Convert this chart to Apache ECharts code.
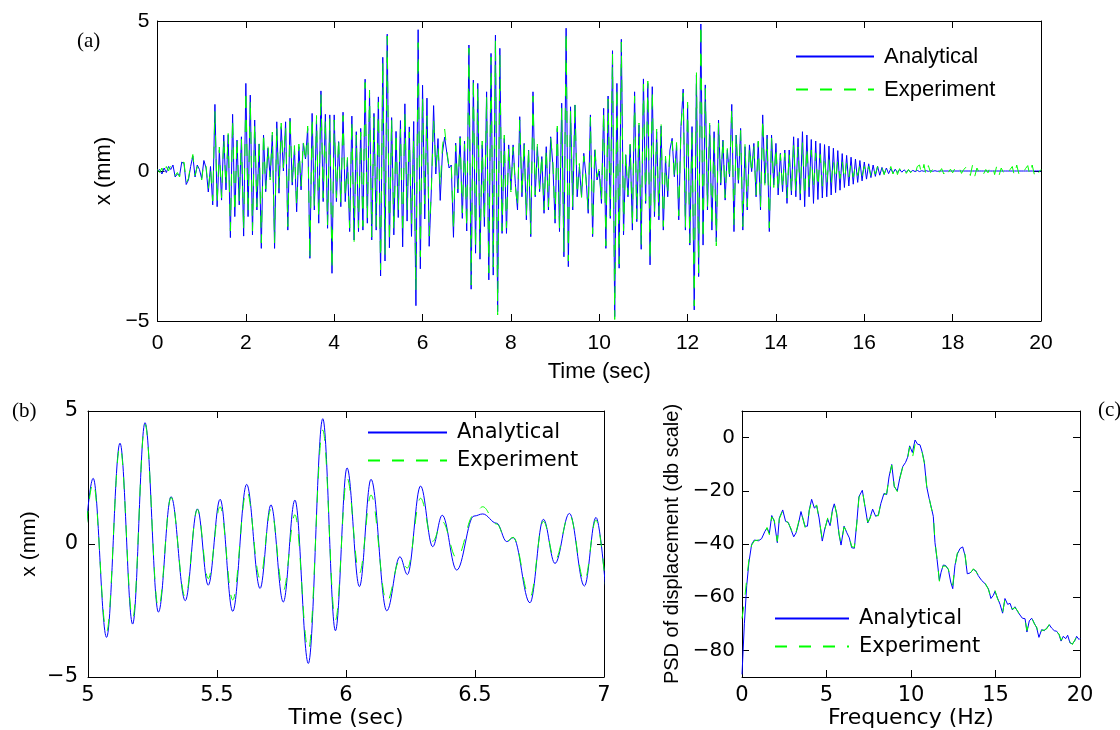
<!DOCTYPE html>
<html>
<head>
<meta charset="utf-8">
<script src="https://cdn.jsdelivr.net/npm/echarts/dist/echarts.min.js"></script>
<style>
html,body{margin:0;padding:0;background:#fff;}
#chart{width:1120px;height:730px;}
</style>
</head>
<body>
<div id="chart"></div>
<script>
// ---------- Panel (a): displacement history, extrema sampled every 0.05 s from t = 0 ----------
const aStep = 0.05;
const aAnalytical = [
 0, 0.05, -0.1, 0.1, -0.05, 0.15, 0.05, 0.2, -0.2, -0.1,
 -0.15, 0.3, 0.25, -0.45, -0.3, 0.15, 0.5, -0.2, 0.2, 0.05,
 -0.25, 0.35, 0.1, -0.7, 0.15, -1.13, 2.22, -1.19, 0.7, -0.97,
 1.2, -0.63, 1.2, -2.22, 1.89, -1.52, 1.03, -1.13, 1.14, -2.17,
 2.92, -1.52, 2.53, -2.13, 1.7, -1.3, 0.9, -2.58, 1.2, -0.69,
 0.76, -0.2, 1.2, -2.58, 1.64, -0.74, 1.48, 0.0, 1.64, -1.97,
 1.76, -0.47, 0.76, -1.36, 0.81, -0.63, 0.92, 0.4, 1.42, -2.91,
 1.92, -1.3, 1.7, -1.74, 2.67, -1.02, 1.89, -1.91, 1.87, -3.41,
 1.87, -1.02, 0.98, -1.19, 1.96, -1.02, 0.37, -2.02, 1.83, -2.3,
 1.31, -2.02, 1.42, -1.97, 3.06, -1.74, 2.59, -2.3, 1.92, -1.97,
 2.47, -3.5, 3.79, -3.0, 4.56, -2.56, 1.78, -2.13, 1.32, -1.55,
 1.68, -2.53, 2.24, -1.67, 1.47, -2.18, 1.65, -4.49, 4.71, -3.26,
 2.86, -1.6, 2.43, -2.51, -0.6, 2.18, -0.1, 1.08, -0.98, 0.6,
 1.13, 0.6, 0.1, 0.2, -2.21, 0.93, -0.73, 1.15, -1.58, 1.0,
 -2.0, 4.2, -3.94, 3.03, -2.74, 2.92, -2.94, 0.87, -1.85, 2.64,
 -3.63, 3.92, -3.47, 4.53, -4.69, 4.09, -2.08, 1.09, -2.08, 0.87,
 -0.63, 0.87, -0.41, -1.3, 1.81, -0.86, 0.92, -1.63, 0.7, -2.19,
 2.64, -0.86, 0.81, -0.69, 0.48, -1.41, 0.81, -1.3, 1.14, 0.2,
 -1.74, 1.42, -2.02, 2.26, -2.86, 4.76, -3.19, 2.14, -1.3, 2.2,
 -0.86, 0.14, -0.86, 0.59, -0.19, -1.41, 1.87, -2.19, 0.7, -0.3,
 0.0, -1.08, 2.09, -2.58, 2.5, -1.58, 4.01, -4.86, 2.92, -3.24,
 4.39, -2.13, 0.53, -0.86, 0.87, -1.97, 2.64, -1.69, 1.53, -2.61,
 3.07, -1.08, 2.92, -3.13, 2.81, -1.52, 1.31, -1.63, 1.5, -1.97,
 0.42, -0.86, 0.7, 1.09, -0.19, 0.87, -1.63, 1.48, 2.73, -1.97,
 2.2, -2.47, 1.48, -4.63, 3.2, -3.52, 4.9, -2.47, 2.87, -1.3,
 1.53, -1.97, 1.31, -2.36, 1.7, -0.47, 1.03, -0.97, 0.7, -0.19,
 2.22, -2.02, 1.2, -0.41, 1.42, -1.97, 0.81, -1.3, 0.87, -0.02,
 0.92, -0.86, 0.98, -1.3, 1.87, -0.41, 1.2, -2.02, 1.2, -0.47,
 0.92, -0.8, 0.59, -0.69, 0.7, -1.08, 0.7, -0.8, 1.14, -0.86,
 1.09, -0.97, 1.31, -1.19, 1.2, -0.86, 1.05, -1.08, 1.0, -0.95,
 0.92, -0.9, 0.88, -0.86, 0.83, -0.8, 0.76, -0.72, 0.68, -0.64,
 0.58, -0.55, 0.52, -0.5, 0.46, -0.44, 0.4, -0.38, 0.35, -0.33,
 0.3, -0.27, 0.24, -0.22, 0.2, -0.18, 0.16, -0.14, 0.12, -0.11,
 0.1, -0.09, 0.08, -0.07, 0.06, -0.05, 0.05, -0.04, 0.04, -0.03,
 0.03, -0.03, 0.02, -0.02, 0.02, -0.02, 0.01, -0.01, 0.01, -0.01,
 0.01, -0.01, 0.01, -0.01, 0, 0, 0, 0, 0, 0,
 0, 0, 0, 0, 0, 0, 0, 0, 0, 0,
 0, 0, 0, 0, 0, 0, 0, 0, 0, 0,
 0, 0, 0, 0, 0, 0, 0, 0, 0, 0,
 0, 0, 0, 0, 0, 0, 0, 0, 0, 0,
 0
];
const aExperiment = [
 0.05, -0.05, 0.1, -0.15, 0.15, 0.0, 0.2, 0.1, -0.15, -0.05,
 -0.2, 0.25, 0.3, -0.4, -0.25, 0.2, 0.55, -0.15, 0.15, 0.1,
 -0.3, 0.3, 0.15, -0.6, 0.1, -1.0, 2.0, -1.1, 0.8, -0.9,
 1.1, -0.5, 1.25, -2.0, 1.75, -1.4, 1.1, -1.0, 1.05, -2.0,
 2.7, -1.4, 2.4, -2.0, 1.6, -1.2, 1.0, -2.4, 1.3, -0.6,
 0.85, -0.3, 1.3, -2.4, 1.5, -0.6, 1.6, 0.1, 1.5, -1.85,
 1.85, -0.4, 0.85, -1.2, 0.9, -0.5, 1.0, 0.3, 1.5, -2.95,
 1.8, -1.2, 1.85, -1.6, 2.6, -0.9, 1.75, -1.8, 1.75, -3.3,
 1.7, -0.9, 1.1, -1.1, 1.85, -0.9, 0.45, -1.9, 1.7, -2.4,
 1.2, -1.9, 1.3, -1.85, 2.95, -1.6, 2.7, -2.2, 1.8, -1.85,
 2.3, -3.3, 3.66, -2.8, 4.5, -2.4, 1.75, -2.0, 1.3, -1.3,
 1.4, -2.1, 2.0, -1.3, 1.3, -1.75, 1.1, -3.98, 4.28, -2.86,
 2.48, -1.1, 1.84, -2.17, -0.6, 1.72, 0.1, 0.84, -0.53, 0.8,
 1.4, 0.7, 0.1, 0.25, -2.0, 0.85, -0.6, 1.1, -1.4, 0.9,
 -1.9, 4.1, -3.8, 3.1, -2.6, 2.8, -2.8, 1.0, -1.7, 2.5,
 -3.4, 3.8, -3.2, 4.4, -4.8, 3.9, -2.0, 1.2, -1.9, 0.8,
 -0.7, 0.8, -0.5, -1.2, 1.7, -0.8, 1.0, -1.5, 0.8, -2.1,
 2.5, -0.8, 0.9, -0.6, 0.55, -1.3, 0.75, -1.2, 1.1, 0.3,
 -1.6, 1.5, -1.9, 2.1, -2.7, 4.65, -3.0, 2.0, -1.2, 2.3,
 -0.8, 0.25, -0.9, 0.5, -0.3, -1.3, 1.8, -2.1, 0.8, -0.2,
 0.1, -1.0, 2.0, -2.5, 2.4, -1.5, 3.9, -4.95, 2.8, -3.1,
 4.3, -2.0, 0.6, -0.8, 0.9, -1.85, 2.5, -1.6, 1.6, -2.5,
 2.9, -1.0, 3.0, -3.0, 2.7, -1.4, 1.4, -1.5, 1.6, -1.85,
 0.5, -0.8, 0.75, 1.0, -0.25, 0.95, -1.5, 1.4, 2.6, -1.9,
 2.3, -2.4, 1.4, -4.5, 3.3, -3.4, 4.9, -2.3, 2.75, -1.2,
 1.6, -1.85, 1.25, -2.5, 1.6, -0.4, 1.1, -0.9, 0.75, -0.25,
 2.1, -1.9, 1.25, -0.5, 1.35, -1.85, 0.9, -1.2, 0.8, -0.1,
 0.85, -0.8, 1.0, -1.2, 1.75, -0.5, 1.1, -1.9, 1.1, -0.55,
 0.8, -0.7, 0.55, -0.6, 0.6, -0.9, 0.6, -0.7, 0.9, -0.7,
 0.8, -0.75, 0.95, -0.85, 0.8, -0.6, 0.7, -0.6, 0.6, -0.55,
 0.55, -0.5, 0.5, -0.45, 0.4, -0.4, 0.35, -0.3, 0.35, -0.25,
 0.3, -0.3, 0.25, -0.2, 0.25, -0.2, 0.2, -0.15, 0.2, -0.15,
 0.15, -0.12, 0.15, -0.15, 0.12, -0.1, 0.15, -0.08, 0.1, -0.12,
 0.12, -0.05, 0.15, -0.1, 0.18, -0.12, 0.08, -0.05, 0.1, -0.08,
 0.05, -0.06, 0.08, -0.1, 0.15, 0.2, -0.12, 0.22, -0.15, 0.18,
 -0.05, 0.06, -0.08, 0.05, -0.04, 0.08, -0.1, 0.12, -0.05, 0.06,
 -0.06, 0.08, -0.05, 0.1, -0.08, 0.05, 0.12, 0.2, -0.15, 0.2,
 -0.18, 0.1, -0.05, 0.08, -0.1, 0.05, -0.06, 0.15, 0.2, -0.12,
 0.18, -0.15, 0.1, -0.05, 0.06, -0.08, 0.05, 0.15, -0.18, 0.2,
 -0.1, 0.06, -0.05, 0.08, 0.18, -0.15, 0.2, -0.12, 0.1, -0.05,
 0.05
];

// ---------- Panel (b): zoom 5–7 s (turning points) ----------
const bTime = [4.972, 5.02, 5.072, 5.124, 5.173, 5.221, 5.273, 5.322, 5.377, 5.424,
 5.466, 5.512, 5.561, 5.615, 5.667, 5.709, 5.757, 5.802, 5.854, 5.91,
 5.959, 6.004, 6.052, 6.097, 6.158, 6.209, 6.238, 6.289, 6.336, 6.373,
 6.429, 6.496, 6.53, 6.584, 6.623, 6.648, 6.713, 6.765, 6.81, 6.866,
 6.924, 6.969, 7.012];
const bAnalytical = [-2.0, 2.47, -3.51, 3.79, -3.01, 4.56, -2.56, 1.78, -2.13, 1.32,
 -1.55, 1.68, -2.53, 2.24, -1.67, 1.47, -2.18, 1.65, -4.49, 4.71,
 -3.26, 2.86, -1.6, 2.43, -2.51, -0.48, -1.15, 2.18, -0.1, 1.08,
 -0.98, 1.05, 1.13, 0.78, 0.09, 0.24, -2.21, 0.93, -0.73, 1.15,
 -1.58, 1.0, -2.3];
const bExperiment = [-1.9, 2.3, -3.3, 3.66, -2.8, 4.5, -2.4, 1.75, -2.0, 1.3,
 -1.3, 1.4, -2.1, 2.0, -1.3, 1.3, -1.75, 1.1, -3.98, 4.28,
 -2.86, 2.48, -1.1, 1.84, -2.17, -0.6, -0.9, 1.72, 0.1, 0.84,
 -0.53, 1.1, 1.4, 0.75, 0.1, 0.25, -2.0, 0.85, -0.6, 1.1,
 -1.4, 0.9, -2.2];

// ---------- Panel (c): PSD (dB) ----------
const psdFreq = [0, 0.14, 0.28, 0.41, 0.57, 0.73, 0.97, 1.16, 1.36, 1.48,
 1.62, 1.76, 1.91, 2.09, 2.21, 2.41, 2.58, 2.74, 2.9, 3.06,
 3.2, 3.33, 3.49, 3.59, 3.73, 3.87, 3.98, 4.12, 4.28, 4.42,
 4.56, 4.75, 4.91, 5.07, 5.21, 5.35, 5.46, 5.6, 5.74, 5.86,
 6.04, 6.19, 6.35, 6.49, 6.65, 6.79, 6.92, 7.12, 7.28, 7.44,
 7.57, 7.73, 7.91, 8.07, 8.22, 8.4, 8.56, 8.7, 8.86, 9.01,
 9.19, 9.35, 9.51, 9.68, 9.8, 9.92, 10.08, 10.24, 10.39, 10.53,
 10.67, 10.79, 10.93, 11.07, 11.18, 11.32, 11.42, 11.54, 11.68, 11.78,
 11.91, 12.05, 12.21, 12.35, 12.47, 12.6, 12.74, 12.9, 13.06, 13.2,
 13.33, 13.49, 13.69, 13.83, 13.98, 14.18, 14.38, 14.58, 14.73, 14.87,
 14.97, 15.13, 15.27, 15.42, 15.56, 15.72, 15.86, 16.0, 16.15, 16.31,
 16.45, 16.59, 16.75, 16.86, 17.0, 17.14, 17.3, 17.44, 17.57, 17.73,
 17.89, 18.03, 18.19, 18.32, 18.48, 18.62, 18.76, 18.88, 19.01, 19.15,
 19.27, 19.41, 19.55, 19.7, 19.8, 19.94, 20];
const psdAnalytical = [-89, -70, -55.6, -46.9, -40.1, -38.5, -38.8, -38, -35.2, -34,
 -36, -29.3, -31.5, -39.5, -30.2, -27.2, -31.5, -31.9, -34.6, -37.3,
 -35.8, -32.7, -27.8, -30.2, -33.3, -33.3, -27.2, -23.2, -26.5, -25.7,
 -30.2, -38.9, -34, -30.6, -33.1, -27.2, -24.9, -28.4, -36.4, -40.4,
 -33.3, -35.6, -37.7, -41.4, -41.6, -32.1, -22.2, -19.8, -25.9, -32.1,
 -30.2, -26.9, -29.6, -29, -24.7, -21, -21.4, -14.8, -10.1, -18.5,
 -20, -14.8, -10.9, -9.3, -7.4, -3.1, -5.6, -0.9, -2.5, -2.7,
 -5.6, -9.3, -18.5, -22.8, -25.7, -29.6, -39.5, -45.7, -53.7, -50.6,
 -47.9, -48.1, -49.6, -54.3, -56.8, -48.1, -43.8, -41.7, -41.1, -44.4,
 -51.2, -50.9, -49.6, -50, -51.9, -53.7, -54.9, -56.8, -60.5, -59.3,
 -57.8, -60.5, -62.7, -66, -60.5, -62.7, -62.3, -64.8, -63.6, -65.4,
 -66.7, -67.9, -68.1, -73.1, -68.9, -67.9, -69.8, -71.6, -75.1, -72.2,
 -72.6, -71.6, -70.4, -71.6, -72.6, -72.8, -74.1, -76.5, -74.7, -75.6,
 -74.3, -77.2, -77.5, -76.3, -74.7, -75.9, -75.5];
const psdExperiment = [-68, -62, -53, -46, -40.5, -38.8, -38.5, -37.5, -35.5, -33.8,
 -36.5, -29.8, -31, -39, -30.5, -27.5, -31, -32.2, -34.2, -37.5,
 -35.5, -32.2, -28.2, -30, -33.8, -33, -27.5, -23.6, -26.2, -25.3,
 -30.6, -38.2, -34.3, -30.2, -33.5, -27.6, -24.5, -28.8, -36, -40,
 -33.6, -35.2, -37.4, -41, -41.2, -32.5, -22.6, -19.5, -26.3, -31.8,
 -30.5, -27.2, -29.3, -29.4, -24.4, -21.4, -21, -15.2, -10.4, -18.2,
 -20.3, -15.1, -11.2, -9.6, -7.8, -3.5, -7.8, -2.5, -2.9, -3.0,
 -5.9, -9.6, -18.2, -22.5, -26, -29.3, -39.2, -45.4, -54, -50.2,
 -48.2, -48.4, -49.3, -54, -55.5, -48.4, -43.5, -42, -41.4, -44.1,
 -50.9, -51.2, -49.3, -50.3, -51.6, -54, -54.6, -57.1, -60.2, -59.6,
 -57.5, -60.8, -62.4, -65.7, -60.8, -62.4, -62.6, -64.5, -63.9, -65.1,
 -67, -67.6, -68.4, -72.5, -69.2, -67.6, -70.1, -71.3, -74.8, -72.5,
 -72.3, -71.9, -70.1, -71.9, -72.3, -73.1, -73.8, -76.2, -75, -75.3,
 -74.6, -76.9, -77.8, -76, -75, -75.6, -75.2];

const seriesNames = ['Analytical', 'Experiment'];
const psdTicks = [-80, -60, -40, -20, 0];

// ---------- build ----------
const BLUE = '#0000ff', GREEN = '#00ff00';
const SANS = 'Liberation Sans', WIDE = 'DejaVu Sans', SERIF = 'Liberation Serif';
const minus = v => String(v).replace('-', '\u2212');

const aA = aAnalytical.map((v, i) => [+(i * aStep).toFixed(2), v]);
const aE = aExperiment.map((v, i) => [+(i * aStep).toFixed(2), v]);
const bA = bTime.map((t, i) => [t, bAnalytical[i]]);
const bE = bTime.map((t, i) => [t, bExperiment[i]]);
const cA = psdFreq.map((f, i) => [f, psdAnalytical[i]]);
const cE = psdFreq.map((f, i) => [f, psdExperiment[i]]);

const axLine = { show: true, onZero: false, lineStyle: { color: '#000', width: 1 } };
const tick = { show: true, inside: true, length: 7, lineStyle: { color: '#000', width: 1 } };

function xAx(grid, min, max, interval, font, size, name, nameGap, nameFont, nameSize, margin) {
  return [
    { type: 'value', gridIndex: grid, position: 'bottom', min, max, interval,
      axisLine: axLine, axisTick: tick, splitLine: { show: false },
      axisLabel: { color: '#000', fontFamily: font, fontSize: size, margin, formatter: minus },
      name, nameLocation: 'middle', nameGap,
      nameTextStyle: { color: '#000', fontFamily: nameFont, fontSize: nameSize } },
    { type: 'value', gridIndex: grid, position: 'top', min, max, interval,
      axisLine: axLine, axisTick: tick, splitLine: { show: false }, axisLabel: { show: false } }
  ];
}
function yAx(grid, min, max, interval, font, size, name, nameGap, nameFont, nameSize, margin, custom) {
  const left = { type: 'value', gridIndex: grid, position: 'left', min, max,
      axisLine: axLine, axisTick: Object.assign({}, tick), splitLine: { show: false },
      axisLabel: { color: '#000', fontFamily: font, fontSize: size, margin, formatter: minus },
      name, nameLocation: 'middle', nameGap,
      nameTextStyle: { color: '#000', fontFamily: nameFont, fontSize: nameSize } };
  const right = { type: 'value', gridIndex: grid, position: 'right', min, max,
      axisLine: axLine, axisTick: Object.assign({}, tick), splitLine: { show: false }, axisLabel: { show: false } };
  if (custom) {
    left.axisTick.customValues = custom; left.axisLabel.customValues = custom;
    right.axisTick.customValues = custom;
  } else { left.interval = interval; right.interval = interval; }
  return [left, right];
}

function lineSeries(name, data, x, y, color, dashed, extra) {
  return Object.assign({
    name, type: 'line', data, xAxisIndex: x, yAxisIndex: y,
    symbol: 'none', showSymbol: false, animation: false,
    lineStyle: { color, width: 1, type: dashed ? [12, 12] : 'solid' },
    itemStyle: { color, opacity: 0 }, z: dashed ? 3 : 2
  }, extra || {});
}

function legend(left, top, width, font, size, gap) {
  return { data: seriesNames, orient: 'vertical', left, top, itemWidth: width, itemHeight: 14,
    itemGap: gap, selectedMode: false, padding: 0,
    itemStyle: { opacity: 0, borderWidth: 0 },
    textStyle: { color: '#000', fontFamily: font, fontSize: size, lineHeight: 24, padding: [0, 0, 0, 5] } };
}

const smooth = { smooth: 0.38, smoothMonotone: 'x' };

const option = {
  backgroundColor: '#fff',
  animation: false,
  title: [
    { text: '(a)', left: 77, top: 31, padding: 0, textStyle: { fontFamily: SERIF, fontSize: 21, fontWeight: 'normal', color: '#000' } },
    { text: '(b)', left: 12, top: 401, padding: 0, textStyle: { fontFamily: SERIF, fontSize: 21, fontWeight: 'normal', color: '#000' } },
    { text: '(c)', left: 1098, top: 400, padding: 0, textStyle: { fontFamily: SERIF, fontSize: 21, fontWeight: 'normal', color: '#000' } }
  ],
  grid: [
    { left: 157.5, right: 79, top: 21, bottom: 409 },
    { left: 88, right: 516, top: 411, bottom: 53 },
    { left: 742, right: 40, top: 411, bottom: 53 }
  ],
  xAxis: [].concat(
    xAx(0, 0, 20, 2, SANS, 21, 'Time (sec)', 40, SANS, 22, 12),
    xAx(1, 5, 7, 0.5, WIDE, 21, 'Time (sec)', 30, WIDE, 22, 8),
    xAx(2, 0, 20, 5, WIDE, 21, 'Frequency (Hz)', 30, WIDE, 22, 8)
  ),
  yAxis: [].concat(
    yAx(0, -5, 5, 5, SANS, 21, 'x (mm)', 18, SANS, 22, 8),
    yAx(1, -5, 5, 5, WIDE, 21, 'x (mm)', 48, SANS, 21, 10),
    yAx(2, -90, 10, 20, WIDE, 20, 'PSD of displacement (db scale)', 60, SANS, 20, 7, psdTicks)
  ),
  legend: [
    legend(795, 44.5, 78, SANS, 22, 9),
    legend(367, 420.5, 79, WIDE, 21, 4),
    legend(774, 606.5, 74, WIDE, 21, 4)
  ],
  series: [
    lineSeries(seriesNames[0], aA, 0, 0, BLUE, false),
    lineSeries(seriesNames[1], aE, 0, 0, GREEN, true),
    lineSeries(seriesNames[0], bA, 2, 2, BLUE, false, smooth),
    lineSeries(seriesNames[1], bE, 2, 2, GREEN, true, smooth),
    lineSeries(seriesNames[0], cA, 4, 4, BLUE, false),
    lineSeries(seriesNames[1], cE, 4, 4, GREEN, true)
  ]
};

const chart = echarts.init(document.getElementById('chart'), null, { renderer: 'canvas' });
chart.setOption(option);
</script>
</body>
</html>
